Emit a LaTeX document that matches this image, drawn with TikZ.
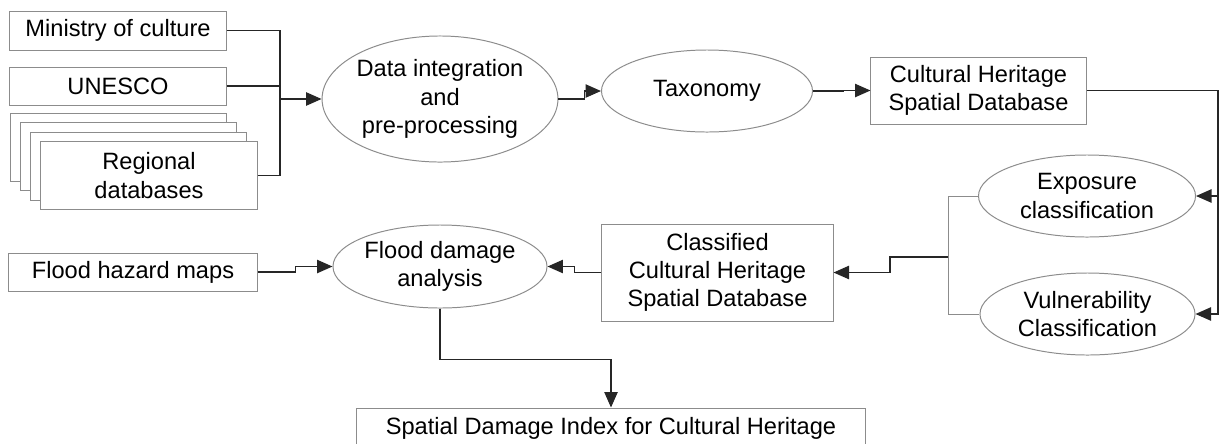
\documentclass[tikz,border=0pt]{standalone}
\usepackage{fontspec}
\setmainfont{Liberation Sans}
\usepackage{tikz}
\usetikzlibrary{shapes.geometric}
\usetikzlibrary{arrows.meta}
\definecolor{edgeGray}{gray}{0.55}
\definecolor{lineDark}{gray}{0.15}

\begin{document}
\begin{tikzpicture}[x=0.025cm,y=-0.025cm,
		font=\fontsize{16.8}{20}\selectfont,
		srcBox/.style={draw=edgeGray,line width=0.7pt,fill=white,inner sep=0pt,align=center},
		procEll/.style={ellipse,draw=edgeGray,line width=0.7pt,fill=white,inner sep=0pt,align=center},
		conn/.style={draw=lineDark,line width=0.9pt},
		arr/.style={conn,-{Triangle[length=11pt,width=9.5pt]}}]
		\useasboundingbox (0,0) rectangle (1221,443);
		
		% sources
		\node[srcBox,minimum width=5.4cm,minimum height=0.975cm] (min) at (118,30.5) {Ministry of culture};
		\node[srcBox,minimum width=5.4cm,minimum height=0.95cm] (unesco) at (118,86) {UNESCO};
		\foreach \k in {3,2,1} {
			\node[srcBox,minimum width=5.4cm,minimum height=1.7cm] (reg\k) at (149-10.3*\k,175.5-9.5*\k) {};
		}
		\node[srcBox,minimum width=5.4cm,minimum height=1.7cm] (reg) at (149,175.5) {Regional\\databases};
		
		% processing chain
		\node[procEll,minimum width=5.375cm,minimum height=3.15cm] (data) at (440,99) {Data integration\\and\\pre-processing};
		\node[procEll,minimum width=5.275cm,minimum height=2.05cm] (tax) at (707,91) {Taxonomy};
		\node[srcBox,minimum width=5.375cm,minimum height=1.675cm] (chdb) at (978.5,90.5) {Cultural Heritage\\Spatial Database};
		\node[procEll,minimum width=5.425cm,minimum height=2.05cm] (expo) at (1087,196) {Exposure\\classification};
		\node[procEll,minimum width=5.375cm,minimum height=2.05cm] (vuln) at (1087.5,314) {Vulnerability\\Classification};
		\node[srcBox,minimum width=5.775cm,minimum height=2.425cm] (cchdb) at (717.5,272.5) {Classified\\Cultural Heritage\\Spatial Database};
		\node[procEll,minimum width=5.35cm,minimum height=2.075cm] (flood) at (440,266.5) {Flood damage\\analysis};
		\node[srcBox,minimum width=6.2cm,minimum height=0.95cm] (hazard) at (133,272) {Flood hazard maps};
		\node[srcBox,minimum width=12.7cm,minimum height=1cm] (sdi) at (611,428) {Spatial Damage Index for Cultural Heritage};
		
		% connectors
		\coordinate (bus) at (280,99);
		\draw[conn] (min.east) -| (bus);
		\draw[conn] (unesco.east) -| (bus);
		\draw[conn] (reg.east) -| (bus);
		\draw[arr] (bus) -- (data.west);
		\draw[arr] (data.east) -- ++(26,0) |- (tax.west);
		\draw[arr] (tax.east) -- ++(30,0) |- (chdb.west);
		\coordinate (rb) at (1218,314);
		\draw[arr] (chdb.east) -| (rb) -- (vuln.east);
		\draw[arr] (expo.east -| rb) -- (expo.east);
		\coordinate (lb) at (948,257);
		\draw[edgeGray,line width=0.7pt] (expo.west) -| (lb) |- (vuln.west);
		\draw[arr] (lb) -- ++(-58,0) |- (cchdb.east);
		\draw[arr] (cchdb.west) -- ++(-27,0) |- (flood.east);
		\draw[arr] (hazard.east) -- ++(38,0) |- (flood.west);
		\draw[arr] (flood.south) -- ++(0,51) -| (sdi.north);
	\end{tikzpicture}
\end{document}
